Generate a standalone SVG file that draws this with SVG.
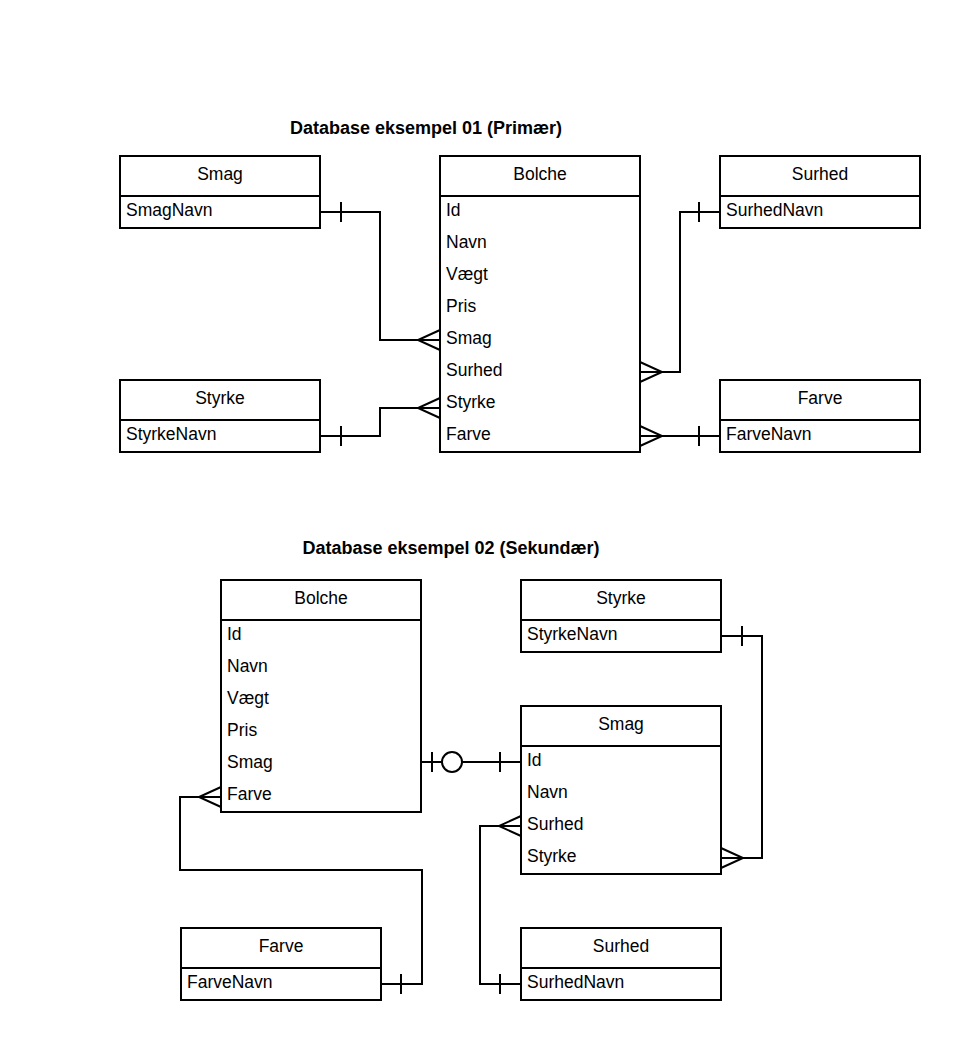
<svg xmlns="http://www.w3.org/2000/svg" width="960" height="1040" viewBox="0 0 960 1040">
<style>
.box{fill:#fff;stroke:#000;stroke-width:2}
.t{font-family:"Liberation Sans",Arial,sans-serif;font-size:17.5px;fill:#000}
.h{text-anchor:middle}
.title{font-family:"Liberation Sans",Arial,sans-serif;font-size:18px;font-weight:bold;text-anchor:middle;fill:#000}
.c{fill:none;stroke:#000;stroke-width:2}
</style>
<rect width="960" height="1040" fill="#fff"/>
<text class="title" x="426" y="134">Database eksempel 01 (Primær)</text>
<text class="title" x="451" y="554">Database eksempel 02 (Sekundær)</text>

<g id="top-smag">
<rect class="box" x="120" y="156" width="200" height="72"/>
<line class="c" x1="120" y1="196" x2="320" y2="196"/>
<text class="t h" x="220" y="180">Smag</text>
<text class="t" x="126" y="216">SmagNavn</text>
</g>
<g id="top-bolche">
<rect class="box" x="440" y="156" width="200" height="296"/>
<line class="c" x1="440" y1="196" x2="640" y2="196"/>
<text class="t h" x="540" y="180">Bolche</text>
<text class="t" x="446" y="216">Id</text>
<text class="t" x="446" y="248">Navn</text>
<text class="t" x="446" y="280">Vægt</text>
<text class="t" x="446" y="312">Pris</text>
<text class="t" x="446" y="344">Smag</text>
<text class="t" x="446" y="376">Surhed</text>
<text class="t" x="446" y="408">Styrke</text>
<text class="t" x="446" y="440">Farve</text>
</g>
<g id="top-surhed">
<rect class="box" x="720" y="156" width="200" height="72"/>
<line class="c" x1="720" y1="196" x2="920" y2="196"/>
<text class="t h" x="820" y="180">Surhed</text>
<text class="t" x="726" y="216">SurhedNavn</text>
</g>
<g id="top-styrke">
<rect class="box" x="120" y="380" width="200" height="72"/>
<line class="c" x1="120" y1="420" x2="320" y2="420"/>
<text class="t h" x="220" y="404">Styrke</text>
<text class="t" x="126" y="440">StyrkeNavn</text>
</g>
<g id="top-farve">
<rect class="box" x="720" y="380" width="200" height="72"/>
<line class="c" x1="720" y1="420" x2="920" y2="420"/>
<text class="t h" x="820" y="404">Farve</text>
<text class="t" x="726" y="440">FarveNavn</text>
</g>

<g id="bot-bolche">
<rect class="box" x="221" y="580" width="200" height="232"/>
<line class="c" x1="221" y1="620" x2="421" y2="620"/>
<text class="t h" x="321" y="604">Bolche</text>
<text class="t" x="227" y="640">Id</text>
<text class="t" x="227" y="672">Navn</text>
<text class="t" x="227" y="704">Vægt</text>
<text class="t" x="227" y="736">Pris</text>
<text class="t" x="227" y="768">Smag</text>
<text class="t" x="227" y="800">Farve</text>
</g>
<g id="bot-styrke">
<rect class="box" x="521" y="580" width="200" height="72"/>
<line class="c" x1="521" y1="620" x2="721" y2="620"/>
<text class="t h" x="621" y="604">Styrke</text>
<text class="t" x="527" y="640">StyrkeNavn</text>
</g>
<g id="bot-smag">
<rect class="box" x="521" y="706" width="200" height="168"/>
<line class="c" x1="521" y1="746" x2="721" y2="746"/>
<text class="t h" x="621" y="730">Smag</text>
<text class="t" x="527" y="766">Id</text>
<text class="t" x="527" y="798">Navn</text>
<text class="t" x="527" y="830">Surhed</text>
<text class="t" x="527" y="862">Styrke</text>
</g>
<g id="bot-farve">
<rect class="box" x="181" y="928" width="200" height="72"/>
<line class="c" x1="181" y1="968" x2="381" y2="968"/>
<text class="t h" x="281" y="952">Farve</text>
<text class="t" x="187" y="988">FarveNavn</text>
</g>
<g id="bot-surhed">
<rect class="box" x="521" y="928" width="200" height="72"/>
<line class="c" x1="521" y1="968" x2="721" y2="968"/>
<text class="t h" x="621" y="952">Surhed</text>
<text class="t" x="527" y="988">SurhedNavn</text>
</g>

<g id="connectors">
<path class="c" d="M320 212 H380 V340 H440"/>
<path class="c" d="M341 202 V222"/>
<path class="c" d="M440 330 L418 340 L440 350"/>
<path class="c" d="M320 436 H380 V408 H440"/>
<path class="c" d="M341 426 V446"/>
<path class="c" d="M440 398 L418 408 L440 418"/>
<path class="c" d="M640 372 H680 V212 H720"/>
<path class="c" d="M699 202 V222"/>
<path class="c" d="M640 362 L662 372 L640 382"/>
<path class="c" d="M640 436 H720"/>
<path class="c" d="M699 426 V446"/>
<path class="c" d="M640 426 L662 436 L640 446"/>

<path class="c" d="M421 762 H442 M462 762 H521"/>
<circle class="c" cx="452" cy="762" r="10"/>
<path class="c" d="M432 752 V772"/>
<path class="c" d="M500 752 V772"/>
<path class="c" d="M221 797 H180 V870 H422 V984 H381"/>
<path class="c" d="M401 974 V994"/>
<path class="c" d="M221 787 L199 797 L221 807"/>
<path class="c" d="M721 636 H762 V858 H721"/>
<path class="c" d="M742 626 V646"/>
<path class="c" d="M721 848 L743 858 L721 868"/>
<path class="c" d="M521 826 H480 V984 H521"/>
<path class="c" d="M500 974 V994"/>
<path class="c" d="M521 816 L499 826 L521 836"/>
</g>
</svg>
